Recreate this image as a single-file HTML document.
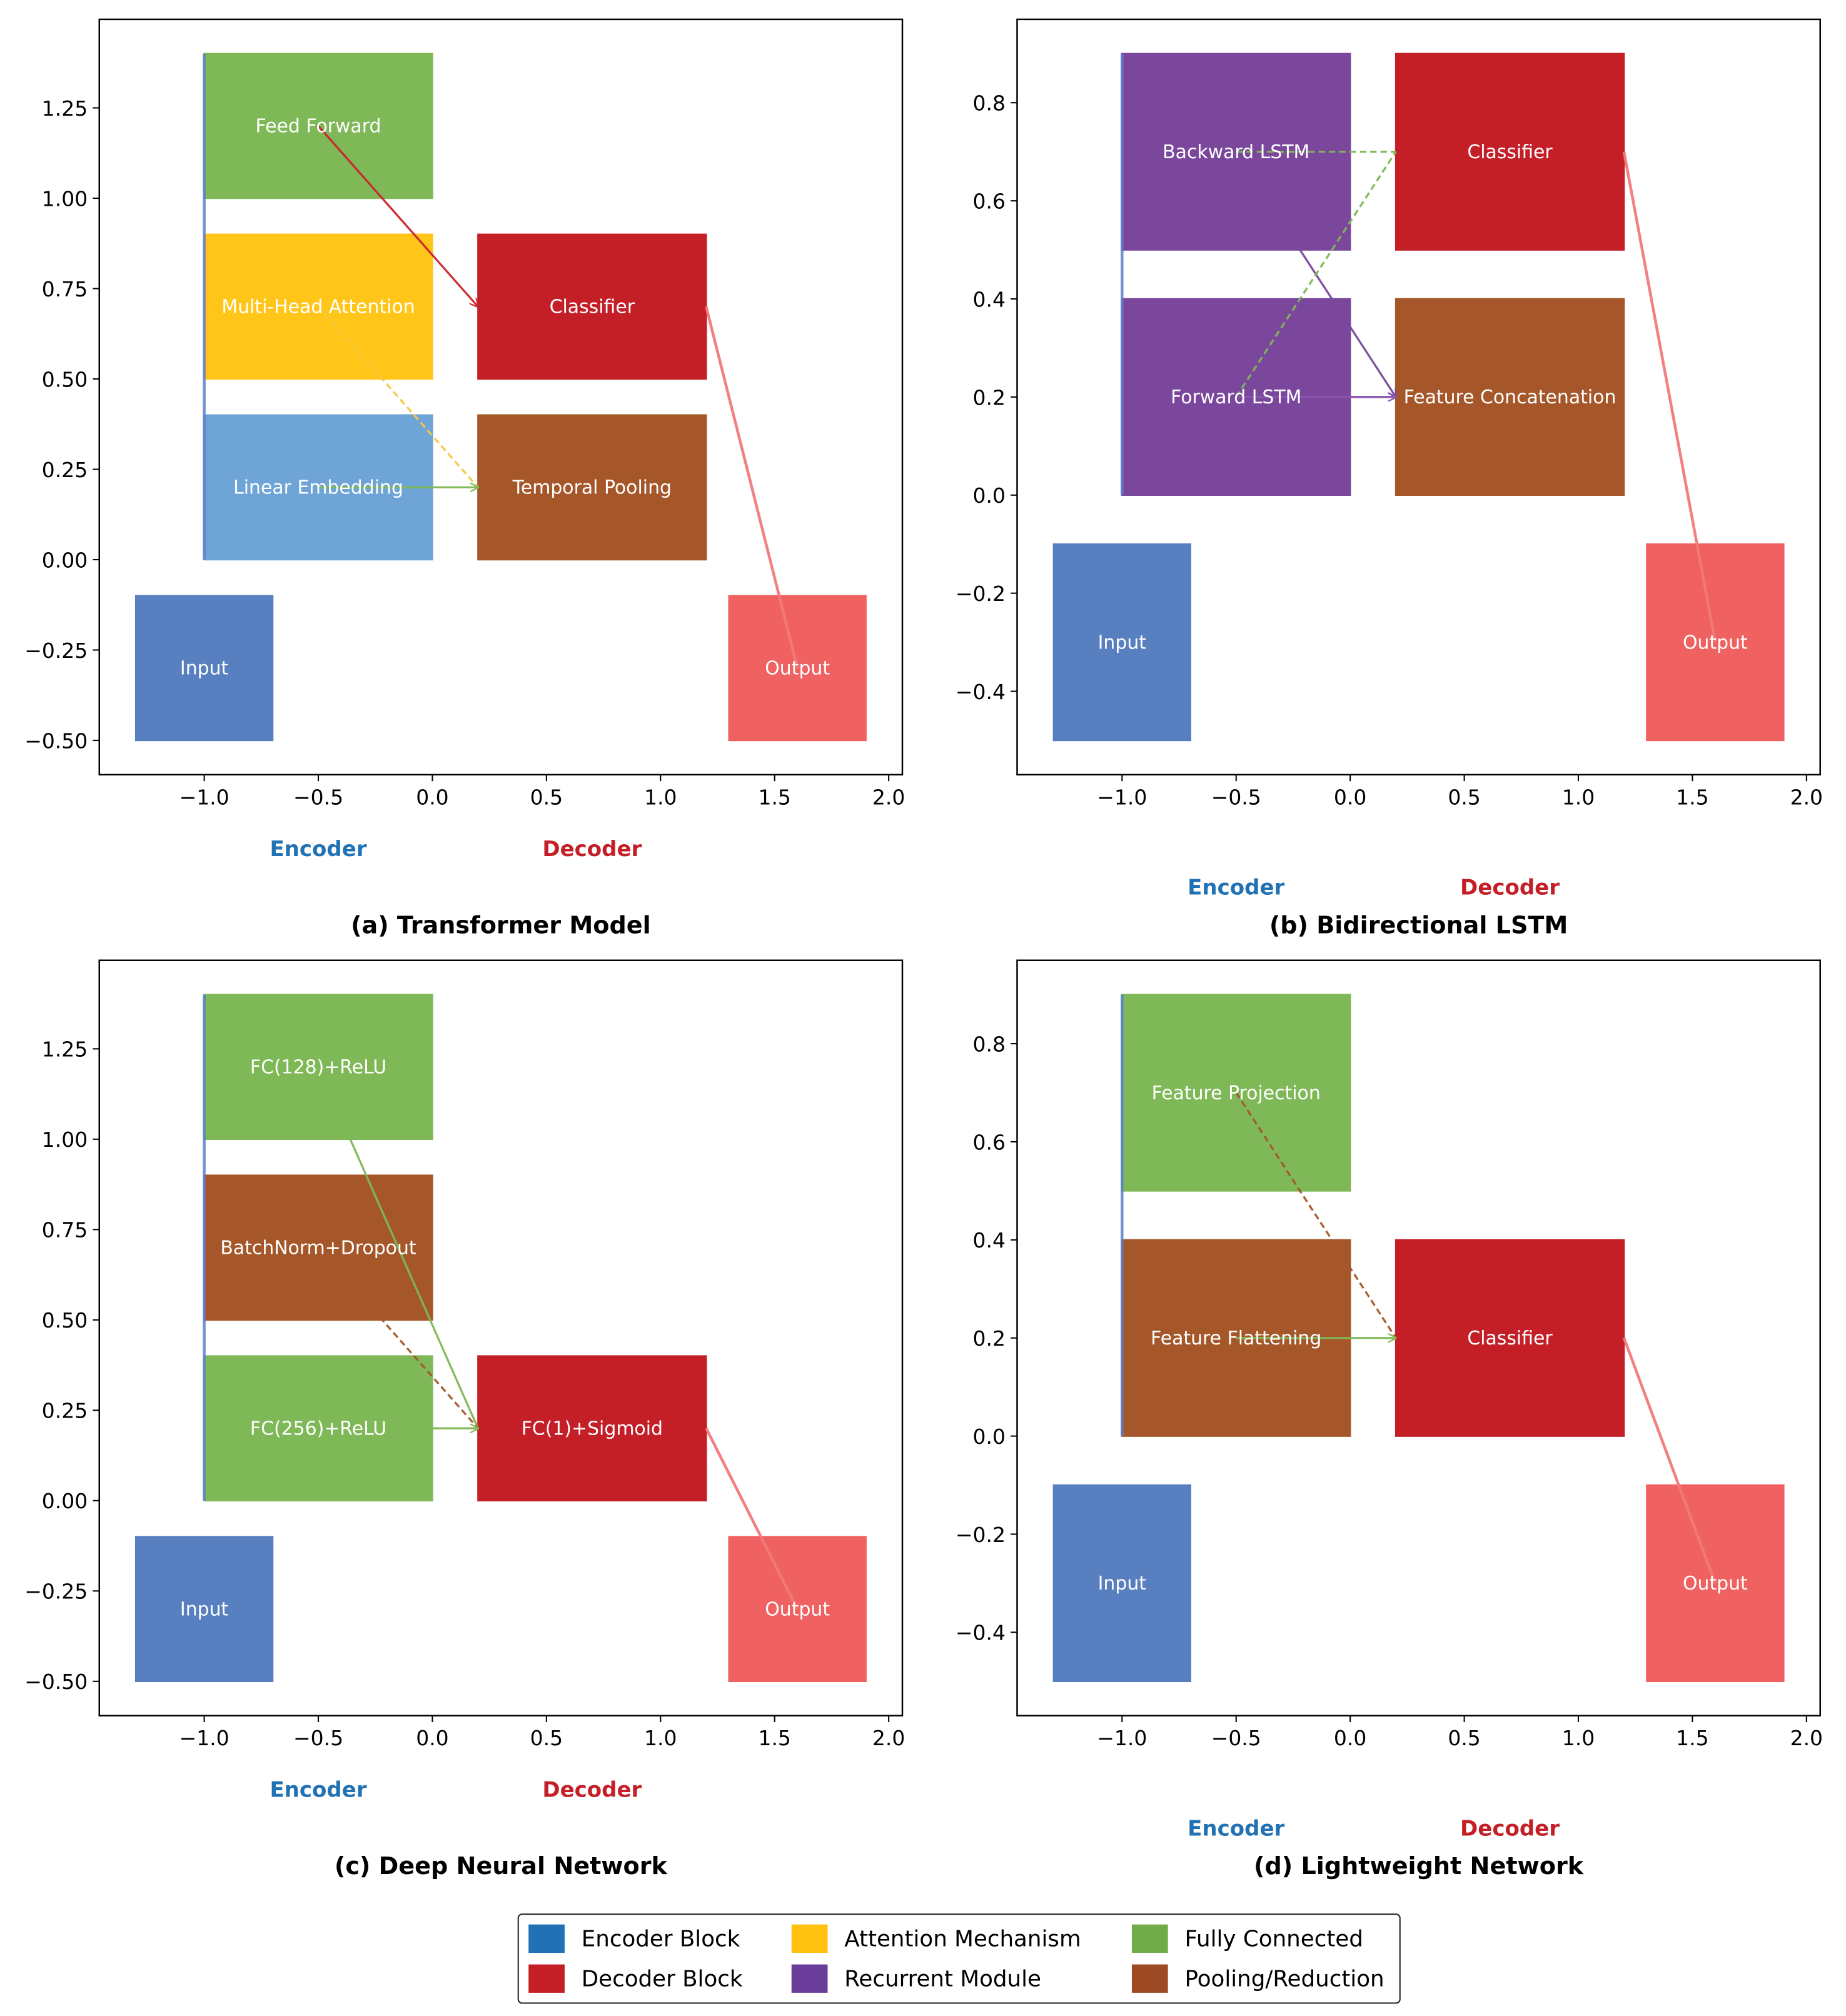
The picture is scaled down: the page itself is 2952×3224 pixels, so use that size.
<!DOCTYPE html>
<html><head><meta charset="utf-8"><style>
html,body{margin:0;padding:0;background:#fff;}
svg{display:block;font-family:"DejaVu Sans","Liberation Sans",sans-serif;}
</style></head><body>
<svg id="fig" width="2952" height="3224" viewBox="0 0 1432 1564" xmlns="http://www.w3.org/2000/svg">
<defs>
<marker id="ah" viewBox="0 0 10 10" refX="9" refY="5" markerWidth="7" markerHeight="7" orient="auto-start-reverse" markerUnits="userSpaceOnUse"><path d="M0,0 L10,5 L0,10" fill="none" stroke="context-stroke" stroke-width="1.6"/></marker>
</defs>
<g id="legend">
<rect x="402" y="1485" width="684" height="69" rx="3" fill="#fff" stroke="#222" stroke-width="1"/>
</g>
</svg>
<script>
const NS="http://www.w3.org/2000/svg";
const svg=document.getElementById('fig');
const xTicks=[-1.0,-0.5,0.0,0.5,1.0,1.5,2.0];
const xTickLabels=["\u22121.0","\u22120.5","0.0","0.5","1.0","1.5","2.0"];
const yTicksAC=[-0.5,-0.25,0,0.25,0.5,0.75,1.0,1.25];
const yTickLabelsAC=["\u22120.50","\u22120.25","0.00","0.25","0.50","0.75","1.00","1.25"];
const yTicksBD=[-0.4,-0.2,0,0.2,0.4,0.6,0.8];
const yTickLabelsBD=["\u22120.4","\u22120.2","0.0","0.2","0.4","0.6","0.8"];
const C={input:"#587fbf",output:"#f06161",dec:"#c41e27",pool:"#a5572a",fc:"#7fb857",att:"#ffc619",emb:"#6fa5d6",rec:"#7a479c"};
// boxes: [label, x0, x1, y0, y1, colorKey]
const boxesA=[["Input",-1.3,-0.7,-0.5,-0.1,"input"],["Output",1.3,1.9,-0.5,-0.1,"output"],["Feed Forward",-1,0,1.0,1.4,"fc"],["Multi-Head Attention",-1,0,0.5,0.9,"att"],["Linear Embedding",-1,0,0,0.4,"emb"],["Classifier",0.2,1.2,0.5,0.9,"dec"],["Temporal Pooling",0.2,1.2,0,0.4,"pool"]];
const boxesB=[["Input",-1.3,-0.7,-0.5,-0.1,"input"],["Output",1.3,1.9,-0.5,-0.1,"output"],["Backward LSTM",-1,0,0.5,0.9,"rec"],["Forward LSTM",-1,0,0,0.4,"rec"],["Classifier",0.2,1.2,0.5,0.9,"dec"],["Feature Concatenation",0.2,1.2,0,0.4,"pool"]];
const boxesC=[["Input",-1.3,-0.7,-0.5,-0.1,"input"],["Output",1.3,1.9,-0.5,-0.1,"output"],["FC(128)+ReLU",-1,0,1.0,1.4,"fc"],["BatchNorm+Dropout",-1,0,0.5,0.9,"pool"],["FC(256)+ReLU",-1,0,0,0.4,"fc"],["FC(1)+Sigmoid",0.2,1.2,0,0.4,"dec"]];
const boxesD=[["Input",-1.3,-0.7,-0.5,-0.1,"input"],["Output",1.3,1.9,-0.5,-0.1,"output"],["Feature Projection",-1,0,0.5,0.9,"fc"],["Feature Flattening",-1,0,0,0.4,"pool"],["Classifier",0.2,1.2,0,0.4,"dec"]];
// arrows: [x0,y0,x1,y1,color,dashed,head,width]
const arrowsA=[[-0.5,1.2,0.2,0.7,"#c8262c",0,1,1.6],[-0.5,0.7,0.2,0.2,"#f5c842",1,0,1.6],[-0.5,0.2,0.2,0.2,"#7fb857",0,1,1.6],[1.2,0.7,1.6,-0.3,"#f27a7a",0,0,2.2]];
const arrowsB=[[-0.5,0.7,0.2,0.2,"#7a479c",0,1,1.6],[-0.5,0.2,0.2,0.2,"#8a55b0",0,1,1.8],[-0.5,0.7,0.2,0.7,"#7fb857",1,0,1.6],[-0.5,0.2,0.2,0.7,"#7fb857",1,0,1.6],[1.2,0.7,1.6,-0.3,"#f27a7a",0,0,2.2]];
const arrowsC=[[-0.5,1.2,0.2,0.2,"#7fb857",0,0,1.6],[-0.5,0.7,0.2,0.2,"#a5572a",1,0,1.6],[-0.5,0.2,0.2,0.2,"#7fb857",0,1,1.6],[1.2,0.2,1.6,-0.3,"#f27a7a",0,0,2.2]];
const arrowsD=[[-0.5,0.7,0.2,0.2,"#a5572a",1,0,1.6],[-0.5,0.2,0.2,0.2,"#7fb857",0,1,1.6],[1.2,0.2,1.6,-0.3,"#f27a7a",0,0,2.2]];
const panels=[
 {id:"a",L:77,T:15,B:601,ymin:-0.595,ymax:1.495,yt:yTicksAC,yl:yTickLabelsAC,boxes:boxesA,arrows:arrowsA,vtop:1.4,lab:658,title:"(a) Transformer Model",ty:718},
 {id:"b",L:789,T:15,B:601,ymin:-0.57,ymax:0.97,yt:yTicksBD,yl:yTickLabelsBD,boxes:boxesB,arrows:arrowsB,vtop:0.9,lab:688,title:"(b) Bidirectional LSTM",ty:718},
 {id:"c",L:77,T:745,B:1331,ymin:-0.595,ymax:1.495,yt:yTicksAC,yl:yTickLabelsAC,boxes:boxesC,arrows:arrowsC,vtop:1.4,lab:1388,title:"(c) Deep Neural Network",ty:1448},
 {id:"d",L:789,T:745,B:1331,ymin:-0.57,ymax:0.97,yt:yTicksBD,yl:yTickLabelsBD,boxes:boxesD,arrows:arrowsD,vtop:0.9,lab:1418,title:"(d) Lightweight Network",ty:1448}];
function mk(tag,attrs,parent){const e=document.createElementNS(NS,tag);for(const k in attrs)e.setAttribute(k,attrs[k]);(parent||svg).appendChild(e);return e;}
const W=623,XMIN=-1.46,XMAX=2.06;
panels.forEach(p=>{
 const g=mk('g',{});
 
 
 const sx=v=>p.L+(v-XMIN)/(XMAX-XMIN)*W;
 const sy=v=>p.B-(v-p.ymin)/(p.ymax-p.ymin)*(p.B-p.T);
 p.boxes.forEach(b=>{
  const r=mk('rect',{x:sx(b[1]),y:sy(b[4]),width:sx(b[2])-sx(b[1]),height:sy(b[3])-sy(b[4]),fill:C[b[5]],stroke:C[b[5]],'stroke-width':1.2},g);
  
  
 });
 const vl=mk('line',{x1:sx(-1),x2:sx(-1),y1:sy(0),y2:sy(p.vtop),stroke:"#5b7fc9",'stroke-width':2.2,opacity:0.85},g);
 
 
 p.arrows.forEach(a=>{
  const l=mk('line',{x1:sx(a[0]),y1:sy(a[1]),x2:sx(a[2]),y2:sy(a[3]),stroke:a[4],'stroke-width':a[7],opacity:0.95},g);
  if(a[5])l.setAttribute('stroke-dasharray','5,3');
  if(a[6])l.setAttribute('marker-end','url(#ah)');
  
  
 });
 p.boxes.forEach(b=>{
  const t=mk('text',{x:sx((b[1]+b[2])/2),y:sy((b[3]+b[4])/2)+5,'text-anchor':'middle','font-size':14.5,fill:'#fff'},g);
  t.textContent=b[0];
  
  
 });
 const fr=mk('rect',{x:p.L,y:p.T,width:W,height:p.B-p.T,fill:'none',stroke:'#000','stroke-width':1.2},g);
 
 
 xTicks.forEach((v,i)=>{
  mk('line',{x1:sx(v),x2:sx(v),y1:p.B,y2:p.B+5,stroke:'#000','stroke-width':1},g);
  const t=mk('text',{x:sx(v),y:p.B+23,'text-anchor':'middle','font-size':16,fill:'#000'},g);
  t.textContent=xTickLabels[i];
  
  
 });
 p.yt.forEach((v,i)=>{
  mk('line',{x1:p.L-5,x2:p.L,y1:sy(v),y2:sy(v),stroke:'#000','stroke-width':1},g);
  const t=mk('text',{x:p.L-9,y:sy(v)+6,'text-anchor':'end','font-size':16,fill:'#000'},g);
  t.textContent=p.yl[i];
  
  
 });
 const e=mk('text',{x:sx(-0.5),y:p.lab+6,'text-anchor':'middle','font-size':16.5,'font-weight':'bold',fill:'#2171b5'},g);
 e.textContent='Encoder';
 
 
 const d=mk('text',{x:sx(0.7),y:p.lab+6,'text-anchor':'middle','font-size':16.5,'font-weight':'bold',fill:'#c41e27'},g);
 d.textContent='Decoder';
 
 
 const ti=mk('text',{x:p.L+W/2,y:p.ty+6,'text-anchor':'middle','font-size':18.5,'font-weight':'bold',fill:'#000'},g);
 ti.textContent=p.title;
 
 
});
const legendLabels=["Encoder Block","Decoder Block","Attention Mechanism","Recurrent Module","Fully Connected","Pooling/Reduction"];
const legendColors=["#2171b5","#c41e27","#ffc10e","#6a3d9a","#70ac48","#9e4a24"];
const lg=document.getElementById('legend');
const colX=[410,614,878],rowY=[1504,1535];
legendLabels.forEach((lab,i)=>{
 const c=Math.floor(i/2),r=i%2;
 const s=mk('rect',{x:colX[c],y:rowY[r]-11,width:28,height:22,fill:legendColors[i]},lg);
 
 
 const t=mk('text',{x:colX[c]+41,y:rowY[r]+6,'font-size':17.3,fill:'#000'},lg);
 t.textContent=lab;
 
 
});
</script>
</body></html>
